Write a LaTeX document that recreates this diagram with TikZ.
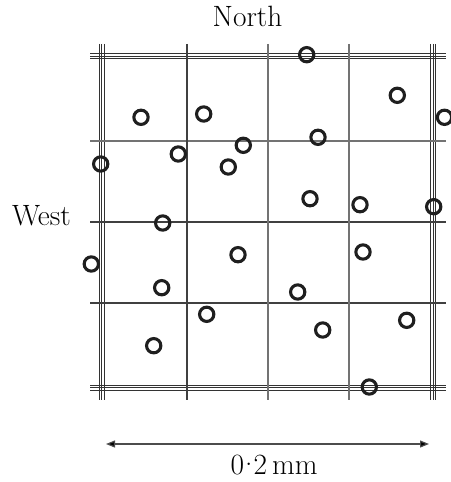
\documentclass[tikz,border=0pt]{standalone}
\usetikzlibrary{arrows.meta}
\begin{document}
\begin{tikzpicture}[x=1bp,y=-1bp,
  gridline/.style={line width=1.2bp,draw=black!75},
  gridgray/.style={line width=1.2bp,draw=black!55},
  thinline/.style={line width=0.9bp,draw=black!80},
  grain/.style={circle,draw=black!88,line width=3.1bp,minimum size=14.3bp,inner sep=0pt},
  label/.style={font=\fontsize{29.5}{34}\selectfont,inner sep=0pt,anchor=base}]
\useasboundingbox (0,0) rectangle (451,482);
% triple border lines
\foreach \y in {53.8,56.2,58.6,385.2,387.7,390.2}
  \draw[thinline] (90,\y) -- (446,\y);
\foreach \x in {99,101.5,104.2,430.8,433.3,435.9}
  \draw[thinline] (\x,44) -- (\x,400);
% interior grid
\draw[gridgray] (90,141) -- (446,141);
\draw[gridline] (90,222) -- (446,222);
\draw[gridline] (90,303) -- (446,303);
\draw[gridline] (187,44) -- (187,400);
\draw[gridgray] (268,44) -- (268,400);
\draw[gridgray] (349,44) -- (349,400);
% grains
\node[grain] (c1) at (306.7,54.7) {};
\node[grain] (c2) at (397.3,95.3) {};
\node[grain] (c3) at (444.5,117.3) {};
\node[grain] (c4) at (141,117.3) {};
\node[grain] (c5) at (203.7,114) {};
\node[grain] (c6) at (318,137.3) {};
\node[grain] (c7) at (243.3,145.3) {};
\node[grain] (c8) at (178.3,154) {};
\node[grain] (c9) at (100.7,164) {};
\node[grain] (c10) at (228.3,167) {};
\node[grain] (c11) at (310,198.7) {};
\node[grain] (c12) at (360,204.7) {};
\node[grain] (c13) at (433.7,206.7) {};
\node[grain] (c14) at (162.7,223) {};
\node[grain] (c15) at (91.3,264) {};
\node[grain] (c16) at (238,254.7) {};
\node[grain] (c17) at (363,252) {};
\node[grain] (c18) at (161.7,287.7) {};
\node[grain] (c19) at (297.7,292) {};
\node[grain] (c20) at (206.7,314.3) {};
\node[grain] (c21) at (322.7,330) {};
\node[grain] (c22) at (406.7,320.3) {};
\node[grain] (c23) at (153.7,345.7) {};
\node[grain] (c24) at (369.3,387) {};
% labels
\node[label] (north) at (247.5,26.7) {North};
\node[label] (west) at (41.5,225.7) {West};
\node[label] (scale) at (274,474) {0\kern0.04em\raisebox{0.28em}{.}\kern0.04em2\,mm};
% scale arrow
\coordinate (al) at (106,444);
\coordinate (ar) at (429,444);
\draw[line width=1.2bp,draw=black!70,{Triangle[length=9bp,width=7bp,fill=black]}-{Triangle[length=9bp,width=7bp,fill=black]}] (al) -- (ar);
\end{tikzpicture}
\end{document}
